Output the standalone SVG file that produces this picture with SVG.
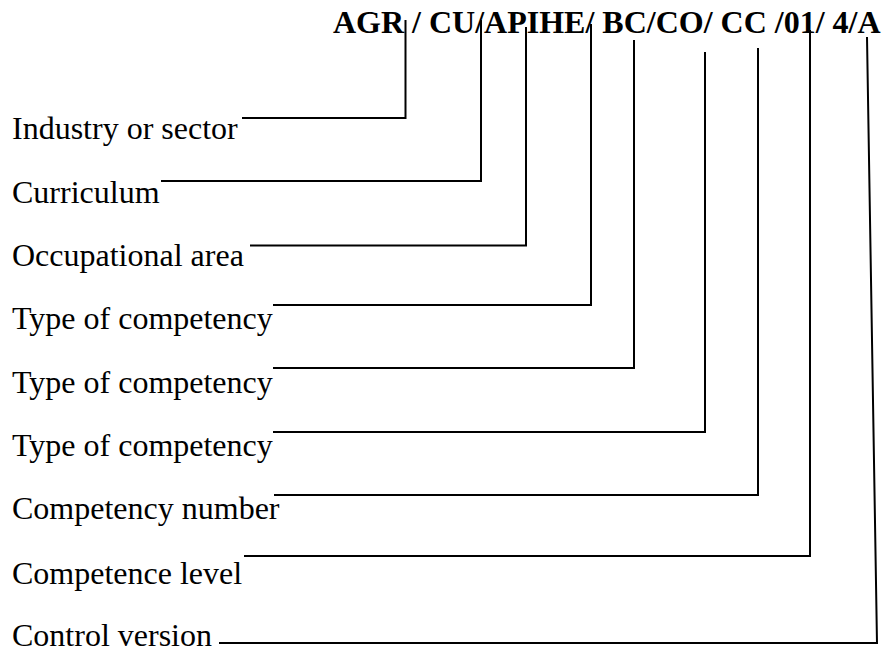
<svg xmlns="http://www.w3.org/2000/svg" width="883" height="657" viewBox="0 0 883 657">
<style>
  .lbl { font-family: "Liberation Serif", "Times New Roman", serif; font-size: 32px; fill: #000; }
  .code { font-family: "Liberation Serif", "Times New Roman", serif; font-size: 32px; font-weight: bold; fill: #000; }
  .conn { fill: none; stroke: #000; stroke-width: 2; stroke-linejoin: miter; }
</style>
<rect width="883" height="657" fill="#fff"/>
<g id="code"><text class="code" x="333" y="33">AGR / CU/APIHE/ BC/CO/ CC /01/ 4/A</text></g>
<g id="industry"><text class="lbl" x="12" y="139">Industry or sector</text></g>
<g id="curriculum"><text class="lbl" x="12" y="202.5">Curriculum</text></g>
<g id="occupational"><text class="lbl" x="12" y="266">Occupational area</text></g>
<g id="type1"><text class="lbl" x="12" y="329">Type of competency</text></g>
<g id="type2"><text class="lbl" x="12" y="392.5">Type of competency</text></g>
<g id="type3"><text class="lbl" x="12" y="456">Type of competency</text></g>
<g id="compnum"><text class="lbl" x="12" y="519">Competency number</text></g>
<g id="complevel"><text class="lbl" x="12" y="584">Competence level</text></g>
<g id="control"><text class="lbl" x="12" y="646">Control version</text></g>
<g id="connectors">
  <polyline class="conn" points="242,118 405.5,118 405.5,20"/>
  <polyline class="conn" points="161,181 481,181 481,20"/>
  <polyline class="conn" points="250,245.5 526,245.5 526,27"/>
  <polyline class="conn" points="273,305 591,305 591,24"/>
  <polyline class="conn" points="273,368 634,368 634,40"/>
  <polyline class="conn" points="273,432 705,432 705,52"/>
  <polyline class="conn" points="274,495 758,495 758,48"/>
  <polyline class="conn" points="244,556 810,556 810,30"/>
  <polyline class="conn" points="219,643 877,643 867,37"/>
</g>
</svg>
